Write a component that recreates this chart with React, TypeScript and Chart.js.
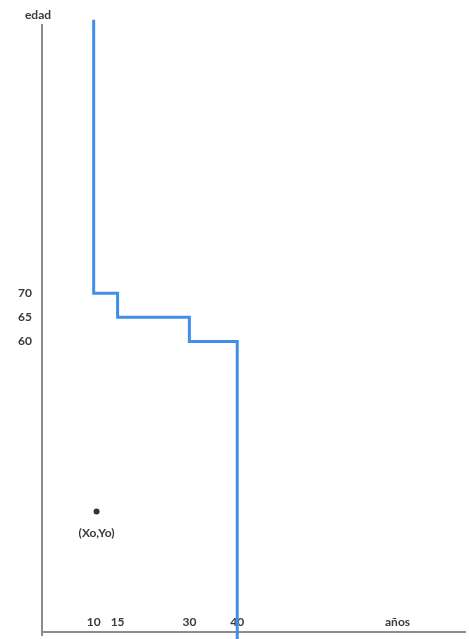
import React, { useEffect, useRef } from 'react';
import { Chart, registerables } from 'chart.js';

Chart.register(...registerables);

// Step line (años, edad) vertices
const stepYears = [10, 10, 15, 30, 40];
const stepAges = [126.5, 70, 65, 60, -1.5];

// Tick labels
const xTickValues = [10, 15, 30, 40];
const yTickValues = [60, 65, 70];
const xAxisTitle = 'años';
const xAxisTitleAt = 73.5;
const yAxisTitle = 'edad';

// Origin point
const originYears = [10.6];
const originAges = [24.9];
const originLabel = '(Xo,Yo)';

const FONT = 'Lato, "Open Sans", sans-serif';
const TEXT = '#3a3a3a';
const AXIS = '#8c8c8c';
const BLUE = '#3f8fe8';

export default function App() {
  const ref = useRef<HTMLCanvasElement>(null);

  useEffect(() => {
    document.body.style.margin = '0';
    const canvas = ref.current;
    if (!canvas) return;

    const labelsPlugin = {
      id: 'extraLabels',
      afterDatasetsDraw(chart: any) {
        const ctx = chart.ctx;
        const xs = chart.scales.x;
        const ys = chart.scales.y;
        ctx.save();
        ctx.font = `bold 12px ${FONT}`;
        ctx.fillStyle = TEXT;
        ctx.textAlign = 'center';
        ctx.textBaseline = 'middle';
        ctx.fillText(yAxisTitle, chart.chartArea.left - 4, chart.chartArea.top - 10);
        ctx.fillText(
          originLabel,
          xs.getPixelForValue(originYears[0]),
          ys.getPixelForValue(originAges[0]) + 22
        );
        ctx.restore();
      },
    };

    const chart = new Chart(canvas, {
      type: 'line',
      data: {
        datasets: [
          {
            data: stepYears.map((x, i) => ({ x, y: stepAges[i] })),
            borderColor: BLUE,
            borderWidth: 3,
            stepped: 'before',
            pointRadius: 0,
            fill: false,
            clip: false as any,
          },
          {
            data: originYears.map((x, i) => ({ x, y: originAges[i] })),
            showLine: false,
            pointRadius: 3,
            pointBackgroundColor: '#333333',
            pointBorderColor: '#333333',
            borderWidth: 0,
          },
        ],
      },
      options: {
        animation: false,
        responsive: false,
        maintainAspectRatio: false,
        layout: { padding: { top: 25, bottom: 3, left: 0, right: 0 } },
        plugins: {
          legend: { display: false },
          tooltip: { enabled: false },
        },
        scales: {
          x: {
            type: 'linear',
            min: -0.8,
            max: 87.6,
            position: { y: 0 } as any,
            grid: { display: false, drawTicks: false },
            border: { display: true, color: AXIS, width: 2 },
            afterFit: (s: any) => {
              s.paddingLeft = 0;
              s.paddingRight = 0;
            },
            afterBuildTicks: (s: any) => {
              s.ticks = [...xTickValues, xAxisTitleAt].map((v) => ({ value: v }));
            },
            ticks: {
              autoSkip: false,
              maxRotation: 0,
              padding: -17,
              color: TEXT,
              font: { family: FONT, size: 12, weight: 'bold' },
              callback: (v: any) => (v === xAxisTitleAt ? xAxisTitle : String(v)),
            },
          },
          y: {
            type: 'linear',
            min: -0.62,
            max: 125.4,
            position: 'left',
            afterFit: (s: any) => {
              s.width = 42;
              s.paddingTop = 0;
              s.paddingBottom = 0;
            },
            grid: { display: false, drawTicks: false },
            border: { display: true, color: AXIS, width: 2 },
            afterBuildTicks: (s: any) => {
              s.ticks = yTickValues.map((v) => ({ value: v }));
            },
            ticks: {
              padding: 10,
              color: TEXT,
              font: { family: FONT, size: 12, weight: 'bold' },
              callback: (v: any) => String(v),
            },
          },
        },
      },
      plugins: [labelsPlugin],
    });

    return () => chart.destroy();
  }, []);

  return (
    <canvas
      ref={ref}
      width={469}
      height={639}
      style={{ display: 'block', width: 469, height: 639 }}
    />
  );
}
